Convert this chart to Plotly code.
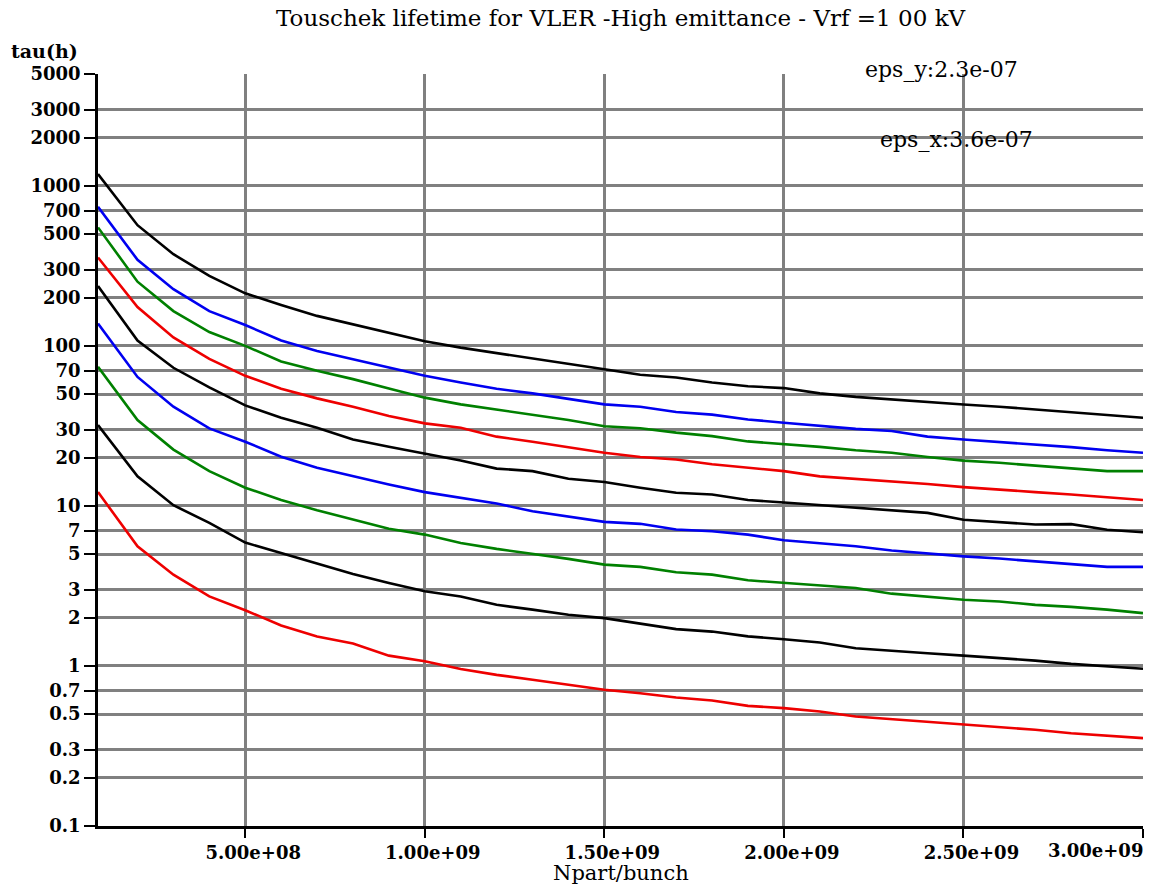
import plotly.graph_objects as go
import math

# x positions (units of 1e8 particles per bunch)
npart_e8 = [0.9, 2, 3, 4, 5, 6, 7, 8, 9, 10, 11, 12, 13, 14, 15,
            16, 17, 18, 19, 20, 21, 22, 23, 24, 25, 26, 27, 28, 29, 30]

tau_black_a = [1186, 568, 374, 274, 213, 180, 154, 136, 121, 107, 97.5, 90, 83, 77, 71.4,
               66, 63.5, 59, 56, 54.5, 50.5, 48, 46.3, 44.2, 43, 41.7, 40.1, 38.6, 37, 35.6]
tau_blue_a = [740, 345, 226, 165, 135, 108, 93, 82.4, 73.5, 65, 59, 54, 50.5, 46.8, 43.1,
              41.7, 38.6, 37.2, 34.7, 33.1, 31.5, 30.3, 29.4, 27.1, 26, 25.1, 24.2, 23.3, 22.3, 21.5]
tau_green_a = [550, 252, 165, 122, 100, 80, 70, 62, 54.2, 47.5, 43.1, 40.1, 37.3, 34.4, 31.5,
               30.6, 28.7, 27.3, 25.3, 24.4, 23.4, 22.3, 21.5, 20.2, 19.2, 18.6, 17.9, 17.1, 16.5, 16.5]
tau_red_a = [357, 175, 113, 83, 65, 54, 47, 41.7, 36.5, 32.8, 30.8, 27.1, 25.2, 23.4, 21.5,
             20.2, 19.5, 18.2, 17.3, 16.5, 15.3, 14.8, 14.3, 13.7, 13.1, 12.7, 12.2, 11.8, 11.3, 10.9]
tau_black_b = [237, 108, 73, 55, 42.5, 35.6, 30.8, 26, 23.4, 21.3, 19.2, 17.1, 16.5, 14.8, 14.1,
               13.0, 12.1, 11.8, 10.9, 10.5, 10.1, 9.75, 9.35, 9.05, 8.2, 7.95, 7.65, 7.7, 7.1, 6.85]
tau_blue_b = [138, 64, 41.7, 30.5, 25.2, 20.3, 17.3, 15.3, 13.6, 12.2, 11.2, 10.35, 9.27, 8.55, 7.95,
              7.73, 7.12, 6.95, 6.62, 6.1, 5.87, 5.6, 5.26, 5.04, 4.84, 4.69, 4.51, 4.34, 4.16, 4.16]
tau_green_b = [74, 34.4, 22.5, 16.5, 13.0, 10.9, 9.4, 8.2, 7.2, 6.62, 5.87, 5.39, 5.04, 4.67, 4.30,
               4.16, 3.85, 3.72, 3.43, 3.30, 3.18, 3.07, 2.83, 2.72, 2.59, 2.53, 2.41, 2.34, 2.25, 2.14]
tau_black_c = [32, 15.3, 10.1, 7.84, 5.9, 5.09, 4.36, 3.76, 3.3, 2.93, 2.72, 2.41, 2.25, 2.09, 1.99,
               1.84, 1.70, 1.64, 1.53, 1.47, 1.40, 1.29, 1.25, 1.20, 1.16, 1.12, 1.08, 1.03, 0.99, 0.96]
tau_red_c = [12.2, 5.6, 3.72, 2.72, 2.23, 1.79, 1.53, 1.38, 1.16, 1.07, 0.957, 0.88, 0.82, 0.76, 0.71,
             0.676, 0.635, 0.608, 0.563, 0.545, 0.519, 0.483, 0.465, 0.445, 0.429, 0.412, 0.399, 0.380, 0.366, 0.354]

y_tick_vals = [0.1, 0.2, 0.3, 0.5, 0.7, 1, 2, 3, 5, 7, 10, 20, 30, 50, 70,
               100, 200, 300, 500, 700, 1000, 2000, 3000, 5000]
y_tick_text = ["0.1", "0.2", "0.3", "0.5", "0.7", "1", "2", "3", "5", "7", "10", "20", "30", "50", "70",
               "100", "200", "300", "500", "700", "1000", "2000", "3000", "5000"]
x_tick_vals = [5e8, 1e9, 1.5e9, 2e9, 2.5e9, 3e9]
x_tick_text = ["5.00e+08", "1.00e+09", "1.50e+09", "2.00e+09", "2.50e+09", ""]

BLACK = "#000000"
BLUE = "#0000f0"
GREEN = "#008000"
RED = "#ee0000"

series = [
    (tau_black_a, BLACK), (tau_blue_a, BLUE), (tau_green_a, GREEN), (tau_red_a, RED),
    (tau_black_b, BLACK), (tau_blue_b, BLUE), (tau_green_b, GREEN),
    (tau_black_c, BLACK), (tau_red_c, RED),
]

x_vals = [v * 1e8 for v in npart_e8]

fig = go.Figure()
for vals, col in series:
    fig.add_trace(go.Scatter(x=x_vals, y=vals, mode="lines",
                             line=dict(color=col, width=2.6), showlegend=False,
                             hoverinfo="skip"))

SERIF = "DejaVu Serif"
tick_font = dict(family=SERIF, size=18, color="black", weight="bold")

fig.update_layout(
    width=1161, height=886,
    margin=dict(l=98, r=18, t=74, b=60),
    paper_bgcolor="white", plot_bgcolor="white",
    font=dict(family=SERIF, color="black"),
    xaxis=dict(
        range=[0.9e8, 3e9], tickvals=x_tick_vals, ticktext=x_tick_text,
        showgrid=True, gridcolor="#808080", gridwidth=2.5,
        showline=True, linecolor="black", linewidth=2.5,
        ticks="outside", ticklen=9, tickwidth=2, tickcolor="black",
        zeroline=False, tickfont=tick_font, ticklabelshift=8,
    ),
    yaxis=dict(
        type="log", range=[-1, math.log10(5000)],
        tickvals=y_tick_vals, ticktext=y_tick_text,
        showgrid=True, gridcolor="#808080", gridwidth=2.5,
        showline=True, linecolor="black", linewidth=2.5,
        ticks="outside", ticklen=11, tickwidth=2, tickcolor="black",
        zeroline=False, tickfont=tick_font,
    ),
)

annos = [
    dict(text="Touschek lifetime for VLER -High emittance - Vrf =1 00 kV",
         x=0.5, y=1.0749, font=dict(family=SERIF, size=23, color="black")),
    dict(text="tau(h)", x=-0.051, y=1.031, font=dict(family=SERIF, size=19, color="black", weight="bold")),
    dict(text="eps_y:2.3e-07", x=0.807, y=1.0057, font=dict(family=SERIF, size=22, color="black")),
    dict(text="eps_x:3.6e-07", x=0.822, y=0.9126, font=dict(family=SERIF, size=22, color="black")),
    dict(text="Npart/bunch", x=0.5, y=-0.0625, font=dict(family=SERIF, size=21, color="black")),
    dict(text="3.00e+09", x=0.955, y=-0.033, font=tick_font),
]
for a in annos:
    fig.add_annotation(xref="paper", yref="paper", showarrow=False,
                       xanchor="center", yanchor="middle", **a)

# remove the browser's default 8px body margin so the figure fills the window exactly
fig.write_html("out.html", config={"displayModeBar": False},
               post_script="document.body.style.margin='0px';")
